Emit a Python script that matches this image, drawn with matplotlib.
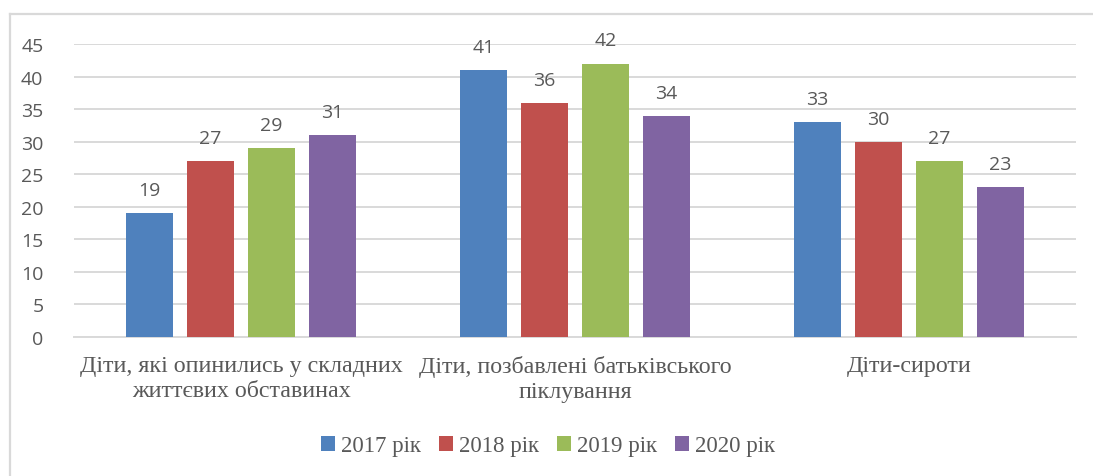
import matplotlib
matplotlib.use('Agg')
import matplotlib.pyplot as plt
import matplotlib.lines as mlines
import numpy as np

categories = ['Діти, які опинились у складних\nжиттєвих обставинах',
              'Діти, позбавлені батьківського\nпіклування',
              'Діти-сироти']
series_names = ['2017 рік', '2018 рік', '2019 рік', '2020 рік']
values_2017 = [19, 41, 33]
values_2018 = [27, 36, 30]
values_2019 = [29, 42, 27]
values_2020 = [31, 34, 23]
y_ticks = [0, 5, 10, 15, 20, 25, 30, 35, 40, 45]

colors = ['#4f81bd', '#c0504d', '#9bbb59', '#8064a2']
text_color = '#595959'
grid_color = '#d9d9d9'

fig = plt.figure(figsize=(10.93, 4.77), dpi=100)
ax = fig.add_axes([74 / 1093, 1 - 338 / 477, (1076 - 74) / 1093, (338 - 45) / 477])

# chart frame (only top and left edges are visible in the reference crop)
fig.add_artist(mlines.Line2D([10 / 1093, 1.0], [1 - 15 / 477] * 2, color=grid_color, lw=1.6))
fig.add_artist(mlines.Line2D([10 / 1093] * 2, [0, 1 - 15 / 477], color=grid_color, lw=1.6))

x = np.arange(len(categories))
width = 0.141
step = 0.183
all_values = [values_2017, values_2018, values_2019, values_2020]
for i, (vals, name) in enumerate(zip(all_values, series_names)):
    pos = x + (i - 1.5) * step
    bars = ax.bar(pos, vals, width, color=colors[i], label=name, zorder=3)
    for b, v in zip(bars, vals):
        ax.annotate(str(v), (b.get_x() + b.get_width() / 2, v),
                    xytext=(0, 13), textcoords='offset points',
                    ha='center', va='baseline', fontsize=14,
                    family='Open Sans', color=text_color, zorder=4)

ax.set_xlim(-0.5, len(categories) - 0.5)
ax.set_ylim(0, 45)
ax.set_yticks(y_ticks)
ax.set_yticklabels([str(t) for t in y_ticks], family='Open Sans', fontsize=14, color=text_color)
ax.yaxis.grid(True, color=grid_color, lw=1.4, zorder=0)
ax.tick_params(axis='y', length=0, pad=22)
ax.tick_params(axis='x', length=0, pad=13)
ax.set_xticks(x)
ax.set_xticklabels(categories, family='Liberation Serif', fontsize=17.3,
                   color=text_color, linespacing=1.25)
for s in ['top', 'right', 'left']:
    ax.spines[s].set_visible(False)
ax.spines['bottom'].set_color(grid_color)
ax.spines['bottom'].set_linewidth(1.4)

leg = fig.legend(loc='center', bbox_to_anchor=(548 / 1093, 1 - 447 / 477), ncol=4,
                 frameon=False, prop={'family': 'Liberation Serif', 'size': 16.5},
                 handlelength=0.6, handleheight=0.6, handletextpad=0.25, columnspacing=0.8)
for t in leg.get_texts():
    t.set_color(text_color)

fig.savefig('out.png', dpi=100)
